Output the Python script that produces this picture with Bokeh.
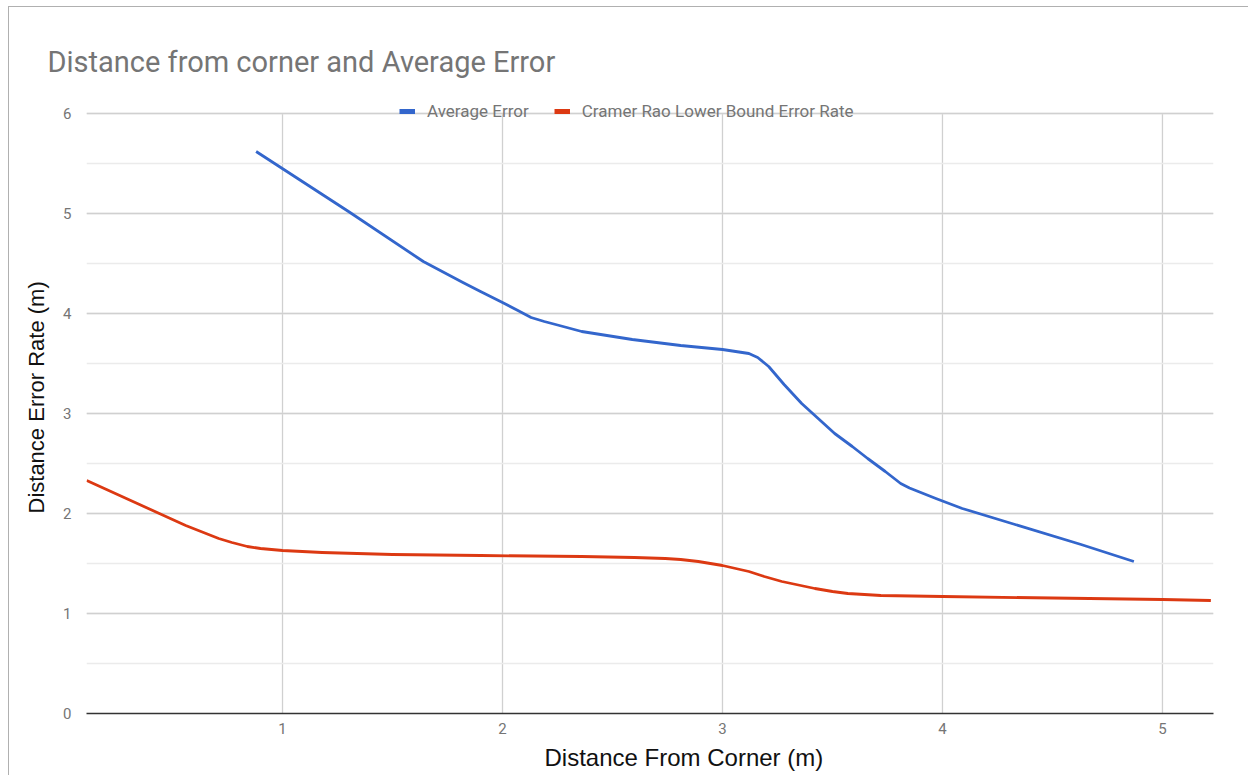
from bokeh.embed import file_html
from bokeh.models import (Legend, LegendItem, Range1d, FixedTicker,
                          SingleIntervalTicker, Title)
from bokeh.plotting import figure
from bokeh.resources import INLINE

# Average localisation error against distance from the corner (m)
avg_x = [0.88, 1.3, 1.64, 1.82, 1.9, 2.0, 2.07, 2.13, 2.19, 2.25, 2.36, 2.59,
         2.81, 3.0, 3.06, 3.12, 3.16, 3.21, 3.28, 3.36, 3.44, 3.51, 3.59,
         3.66, 3.74, 3.81, 3.85, 3.89, 3.97, 4.09, 4.33, 4.63, 4.87]
avg_y = [5.62, 5.02, 4.52, 4.31, 4.22, 4.11, 4.03, 3.96, 3.92, 3.885, 3.82,
         3.74, 3.68, 3.64, 3.62, 3.60, 3.56, 3.47, 3.29, 3.10, 2.94, 2.80,
         2.67, 2.55, 2.42, 2.30, 2.255, 2.22, 2.15, 2.05, 1.89, 1.69, 1.52]

# Cramer-Rao lower bound on the error rate
crlb_x = [0.11, 0.18, 0.33, 0.44, 0.56, 0.71, 0.77, 0.84, 0.9, 1.0, 1.18, 1.5,
          1.9, 2.36, 2.6, 2.74, 2.81, 2.89, 3.0, 3.12, 3.19, 3.27, 3.42, 3.5,
          3.57, 3.72, 4.0, 5.0, 5.22]
crlb_y = [2.33, 2.26, 2.11, 2.00, 1.88, 1.75, 1.71, 1.67, 1.65, 1.63, 1.61,
          1.59, 1.58, 1.57, 1.56, 1.55, 1.54, 1.52, 1.48, 1.42, 1.37, 1.32,
          1.25, 1.22, 1.20, 1.18, 1.17, 1.14, 1.13]

x_ticks = [1, 2, 3, 4, 5]
y_top = 6

series_names = ["Average Error", "Cramer Rao Lower Bound Error Rate"]
title_text = "Distance from corner and Average Error"
x_title = "Distance From Corner (m)"
y_title = "Distance Error Rate (m)"

BLUE = "#3366cc"
RED = "#dc3912"
GREY_TEXT = "#757575"
GRID = "#d0d0d0"

p = figure(
    width=1240, height=769,
    margin=(6, 0, 0, 8),
    styles={"border-left": "1px solid #b0b0b0", "border-top": "1px solid #b0b0b0"},
    output_backend="svg", toolbar_location=None,
    x_range=Range1d(0.109, 5.232), y_range=Range1d(0, 6.17),
    min_border_left=77, min_border_right=36,
    min_border_top=89, min_border_bottom=63,
)
p.outline_line_color = None
p.background_fill_color = "white"
p.border_fill_color = "white"

# axes
p.xaxis.ticker = FixedTicker(ticks=x_ticks)
p.yaxis.ticker = SingleIntervalTicker(interval=1, num_minor_ticks=2)
for ax in (p.xaxis[0], p.yaxis[0]):
    ax.major_tick_line_color = None
    ax.minor_tick_line_color = None
    ax.major_label_text_font = "Roboto"
    ax.major_label_text_font_size = "15px"
    ax.major_label_text_color = GREY_TEXT
p.xaxis.axis_line_color = "#333333"
p.xaxis.axis_line_width = 1.5
p.xaxis.major_label_standoff = 3
p.yaxis.axis_line_color = None
p.yaxis.major_label_standoff = 9

# grid: horizontal lines from the axis ticker, vertical lines stop at the top tick
p.xgrid.grid_line_color = None
p.ygrid.grid_line_color = GRID
p.ygrid.grid_line_width = 1.3
p.ygrid.minor_grid_line_color = "#ebebeb"
p.ygrid.minor_grid_line_width = 1.3
p.segment(x0=x_ticks, y0=[0] * len(x_ticks), x1=x_ticks, y1=[y_top] * len(x_ticks),
          line_color=GRID, line_width=1.3, level="underlay")

# series
p.line(avg_x, avg_y, line_color=BLUE, line_width=2.8, line_join="round")
p.line(crlb_x, crlb_y, line_color=RED, line_width=2.8, line_join="round")

# thick swatches for the legend (single-point lines draw nothing in the plot)
sw_avg = p.line(x=avg_x[:1], y=avg_y[:1], line_color=BLUE, line_width=5)
sw_crlb = p.line(x=crlb_x[:1], y=crlb_y[:1], line_color=RED, line_width=5)

legend = Legend(
    items=[LegendItem(label=series_names[0], renderers=[sw_avg]),
           LegendItem(label=series_names[1], renderers=[sw_crlb])],
    orientation="horizontal",
    location=(313, 592),
    padding=0, margin=0, spacing=25,
    glyph_width=16, glyph_height=16, label_standoff=12,
    label_text_font="Roboto", label_text_font_size="17px",
    label_text_color=GREY_TEXT,
    background_fill_alpha=0, border_line_color=None,
)
p.add_layout(legend)

# chart title and axis titles
p.title = Title(text=title_text, align="left", offset=-39, standoff=36,
                text_font="Roboto", text_font_size="29px",
                text_font_style="normal", text_color=GREY_TEXT)
p.add_layout(Title(text=x_title, align="left", offset=458, standoff=11,
                   text_font="Liberation Sans", text_font_size="24px",
                   text_font_style="normal", text_color="#111111"), "below")
p.add_layout(Title(text=y_title, align="left", offset=200, standoff=23,
                   text_font="Liberation Sans", text_font_size="22px",
                   text_font_style="normal", text_color="#111111"), "left")

open("out.html", "w").write(file_html(p, INLINE))
